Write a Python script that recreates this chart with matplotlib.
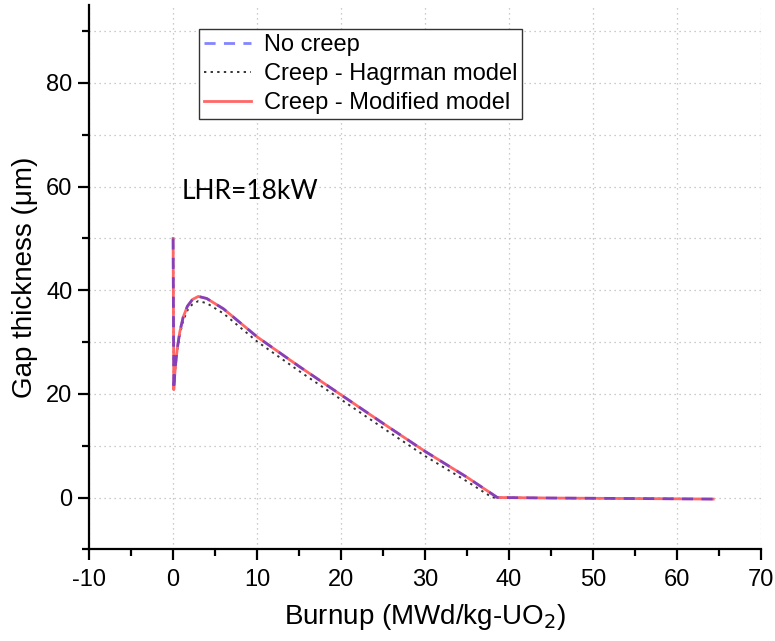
import matplotlib
matplotlib.use("Agg")
from matplotlib import pyplot as plt
from matplotlib.ticker import MultipleLocator

plt.rcParams['font.family'] = ['Liberation Sans', 'DejaVu Sans']
plt.rcParams['axes.unicode_minus'] = False

# burnup (MWd/kg-UO2) and gap thickness (um)
burnup_mod = [0, 0.08, 0.15, 0.3, 0.5, 0.8, 1.2, 1.7, 2.3, 3.0, 4.0, 6.0, 10, 15, 20, 25, 30, 35, 38.6, 45, 55, 64.3]
gap_mod = [50, 20.8, 22.8, 25.8, 28.8, 32.0, 34.8, 36.9, 38.2, 38.8, 38.4, 36.4, 31.0, 25.3, 19.8, 14.3, 8.9, 3.9, 0, -0.1, -0.2, -0.3]

burnup_nocreep = burnup_mod
gap_nocreep = gap_mod

burnup_hag = [0, 0.08, 0.15, 0.3, 0.5, 0.8, 1.2, 1.7, 2.3, 3.0, 4.0, 6.0, 10, 15, 20, 25, 30, 35, 38.0, 45, 55, 64.3]
gap_hag = [50, 20.8, 22.6, 25.5, 28.4, 31.4, 34.1, 36.1, 37.3, 37.9, 37.5, 35.5, 30.1, 24.4, 18.9, 13.4, 8.0, 3.1, 0, -0.1, -0.2, -0.3]

fig = plt.figure(figsize=(7.75, 6.41), dpi=100)
ax = fig.add_axes([0.115, 0.143, 0.867, 0.849])

ax.plot(burnup_mod, gap_mod, color='#ff6666', lw=2.0, ls='-', label='Creep - Modified model', zorder=3)
ax.plot(burnup_hag, gap_hag, color='#333333', lw=1.4, ls=(0, (1.2, 2.2)), label='Creep - Hagrman model', zorder=2)
ax.plot(burnup_nocreep, gap_nocreep, color='#2020ff', lw=2.0, ls=(0, (4, 3)), alpha=0.55, label='No creep', zorder=4)

ax.set_xlim(-10, 70)
ax.set_ylim(-10, 95)
ax.xaxis.set_major_locator(MultipleLocator(10))
ax.xaxis.set_minor_locator(MultipleLocator(5))
ax.yaxis.set_major_locator(MultipleLocator(20))
ax.yaxis.set_minor_locator(MultipleLocator(10))

ax.grid(True, which='major', axis='x', ls=(0, (1, 3)), color='#bbbbbb', lw=0.9)
ax.grid(True, which='both', axis='y', ls=(0, (1, 3)), color='#bbbbbb', lw=0.9)
ax.set_axisbelow(True)

for s in ['top', 'right']:
    ax.spines[s].set_visible(False)
for s in ['left', 'bottom']:
    ax.spines[s].set_linewidth(1.6)

ax.tick_params(which='major', direction='out', length=8, width=1.6, labelsize=17, pad=6)
ax.tick_params(which='minor', direction='out', length=5, width=1.6)
ax.tick_params(axis='y', which='major', pad=4)

ax.set_xlabel('Burnup (MWd/kg-UO$_2$)', fontsize=20, labelpad=8)
ax.set_ylabel('Gap thickness (\u03bcm)', fontsize=20, labelpad=6)

handles, labels = ax.get_legend_handles_labels()
order = [2, 1, 0]
leg = ax.legend([handles[i] for i in order], [labels[i] for i in order],
                loc='upper left', bbox_to_anchor=(0.164, 0.956), fontsize=17,
                frameon=True, fancybox=False, edgecolor='#333333', framealpha=1,
                handlelength=2.0, labelspacing=0.3, borderpad=0.2, handletextpad=0.55,
                borderaxespad=0)
leg.get_frame().set_linewidth(1.0)

ax.text(1.0, 59, 'LHR=18kW', fontsize=19, family=['Lato', 'DejaVu Sans'], va='center', ha='left')

fig.savefig('out.png', dpi=100)
